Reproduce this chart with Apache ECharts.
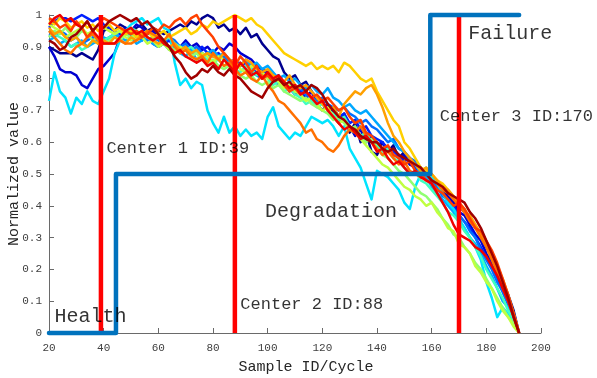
<!DOCTYPE html>
<html>
<head>
<meta charset="utf-8">
<script src="https://cdn.jsdelivr.net/npm/echarts@6/dist/echarts.min.js"></script>
<style>
  html, body { margin: 0; padding: 0; background: #fff; }
  #chart { width: 597px; height: 378px; }
</style>
</head>
<body>
<div id="chart"></div>
<script>
// Sample IDs (cycles) at which every run was recorded
const cycles = [
  20,22,24,26,28,30,32,34,36,38,
  40,42,44,46,48,50,52,54,56,58,
  60,62,64,66,68,70,72,74,76,78,
  80,82,84,86,88,90,92,94,96,98,
  100,102,104,106,108,110,112,114,116,118,
  120,122,124,126,128,130,132,134,136,138,
  140,142,144,146,148,150,152,154,156,158,
  160,162,164,166,168,170,172,174,176,178,
  180,182,184,186,188,190,192
];

// Normalized health indicator of each run
const run01 = [
  0.90,0.89,0.88,0.88,0.88,0.87,0.88,0.87,0.86,0.89,
  0.95,0.96,0.95,0.97,0.96,0.95,0.96,0.97,0.95,0.96,
  0.95,0.94,0.95,0.96,0.97,0.96,0.98,0.97,0.99,1.00,
  0.99,0.96,0.97,0.95,0.96,0.94,0.96,0.93,0.94,0.91,
  0.89,0.87,0.86,0.82,0.80,0.81,0.78,0.79,0.76,0.74,
  0.73,0.70,0.68,0.66,0.69,0.63,0.66,0.60,0.63,0.57,
  0.56,0.60,0.57,0.59,0.55,0.57,0.53,0.54,0.51,0.49,
  0.48,0.46,0.45,0.43,0.41,0.40,0.38,0.36,0.33,0.31,
  0.27,0.24,0.20,0.16,0.12,0.07,0.00
];
const run02 = [
  0.90,0.87,0.83,0.82,0.82,0.81,0.78,0.77,0.80,0.83,
  0.84,0.86,0.88,0.93,0.96,0.95,0.97,0.96,0.94,0.95,
  0.93,0.92,0.93,0.91,0.90,0.92,0.90,0.91,0.89,0.90,
  0.88,0.90,0.89,0.91,0.90,0.88,0.87,0.86,0.84,0.83,
  0.82,0.80,0.81,0.78,0.76,0.78,0.75,0.74,0.76,0.72,
  0.70,0.72,0.69,0.66,0.68,0.65,0.62,0.64,0.60,0.62,
  0.59,0.60,0.57,0.58,0.55,0.56,0.53,0.52,0.50,0.49,
  0.47,0.46,0.44,0.43,0.41,0.38,0.37,0.34,0.31,0.29,
  0.25,0.22,0.18,0.15,0.10,0.06,0.00
];
const run03 = [
  0.96,0.98,0.99,0.99,0.98,0.99,1.00,0.99,0.98,0.99,
  0.97,0.96,0.95,0.94,0.95,0.93,0.94,0.92,0.93,0.91,
  0.90,0.91,0.92,0.90,0.89,0.90,0.88,0.89,0.90,0.88,
  0.87,0.88,0.86,0.85,0.86,0.84,0.85,0.83,0.82,0.83,
  0.81,0.80,0.78,0.79,0.77,0.75,0.76,0.74,0.73,0.74,
  0.72,0.70,0.71,0.68,0.69,0.66,0.67,0.64,0.65,0.62,
  0.61,0.60,0.58,0.57,0.56,0.54,0.55,0.52,0.51,0.49,
  0.47,0.45,0.44,0.41,0.40,0.37,0.35,0.33,0.30,0.27,
  0.24,0.21,0.17,0.13,0.09,0.05,0.00
];
const run04 = [
  0.94,0.93,0.95,0.94,0.92,0.93,0.91,0.92,0.93,0.91,
  0.92,0.93,0.94,0.93,0.95,0.94,0.93,0.94,0.92,0.93,
  0.92,0.91,0.93,0.92,0.90,0.91,0.89,0.90,0.88,0.87,
  0.88,0.86,0.87,0.85,0.84,0.85,0.83,0.82,0.81,0.80,
  0.81,0.79,0.80,0.78,0.77,0.76,0.77,0.75,0.74,0.73,
  0.74,0.72,0.71,0.70,0.71,0.69,0.68,0.66,0.67,0.65,
  0.64,0.62,0.60,0.61,0.58,0.57,0.55,0.54,0.52,0.50,
  0.48,0.46,0.43,0.42,0.39,0.37,0.35,0.32,0.30,0.26,
  0.23,0.20,0.16,0.13,0.09,0.05,0.00
];
const run05 = [
  0.92,0.93,0.91,0.92,0.90,0.91,0.92,0.90,0.91,0.92,
  0.93,0.92,0.94,0.93,0.92,0.93,0.91,0.92,0.93,0.91,
  0.90,0.91,0.89,0.90,0.88,0.87,0.89,0.86,0.87,0.88,
  0.89,0.87,0.88,0.86,0.85,0.84,0.86,0.84,0.85,0.83,
  0.84,0.82,0.80,0.81,0.79,0.80,0.78,0.77,0.78,0.76,
  0.75,0.77,0.74,0.73,0.71,0.72,0.70,0.69,0.70,0.68,
  0.66,0.64,0.62,0.60,0.58,0.57,0.55,0.53,0.50,0.49,
  0.46,0.44,0.42,0.40,0.38,0.35,0.33,0.30,0.28,0.25,
  0.21,0.18,0.14,0.10,0.08,0.04,0.00
];
const run06 = [
  0.73,0.82,0.76,0.74,0.69,0.74,0.72,0.76,0.73,0.72,
  0.76,0.80,0.88,0.92,0.95,0.97,0.98,0.99,0.97,0.98,
  0.99,0.96,0.95,0.85,0.78,0.80,0.77,0.79,0.78,0.70,
  0.66,0.63,0.68,0.63,0.65,0.62,0.64,0.62,0.63,0.61,
  0.68,0.71,0.65,0.63,0.61,0.63,0.62,0.65,0.68,0.67,
  0.66,0.67,0.65,0.62,0.65,0.58,0.55,0.52,0.47,0.42,
  0.51,0.50,0.49,0.47,0.45,0.41,0.39,0.46,0.50,0.52,
  0.49,0.47,0.44,0.41,0.39,0.36,0.33,0.30,0.27,0.23,
  0.16,0.11,0.05,0.08,0.06,0.03,0.00
];
const run07 = [
  0.95,0.94,0.93,0.92,0.90,0.91,0.89,0.90,0.92,0.91,
  0.92,0.93,0.94,0.95,0.94,0.96,0.95,0.94,0.95,0.93,
  0.94,0.92,0.93,0.91,0.90,0.89,0.90,0.88,0.87,0.86,
  0.85,0.86,0.84,0.85,0.83,0.82,0.84,0.83,0.81,0.82,
  0.80,0.78,0.79,0.76,0.77,0.75,0.74,0.72,0.73,0.71,
  0.72,0.70,0.69,0.67,0.68,0.65,0.64,0.62,0.63,0.60,
  0.59,0.57,0.58,0.55,0.54,0.52,0.50,0.51,0.48,0.47,
  0.45,0.43,0.41,0.38,0.37,0.35,0.32,0.30,0.27,0.24,
  0.20,0.17,0.14,0.11,0.07,0.04,0.00
];
const run08 = [
  0.93,0.95,0.94,0.96,0.94,0.93,0.95,0.94,0.92,0.93,
  0.91,0.92,0.93,0.92,0.94,0.93,0.95,0.94,0.93,0.92,
  0.93,0.91,0.90,0.89,0.88,0.89,0.87,0.88,0.86,0.85,
  0.86,0.84,0.83,0.84,0.82,0.81,0.80,0.81,0.79,0.78,
  0.79,0.77,0.78,0.76,0.75,0.74,0.73,0.74,0.72,0.71,
  0.70,0.69,0.67,0.68,0.66,0.64,0.65,0.62,0.60,0.61,
  0.58,0.56,0.55,0.53,0.51,0.50,0.48,0.46,0.44,0.43,
  0.41,0.39,0.36,0.34,0.31,0.30,0.27,0.25,0.22,0.20,
  0.17,0.14,0.11,0.08,0.05,0.03,0.00
];
const run09 = [
  0.97,0.96,0.95,0.93,0.94,0.95,0.96,0.94,0.95,0.97,
  0.96,0.95,0.94,0.95,0.93,0.92,0.94,0.93,0.91,0.92,
  0.90,0.91,0.89,0.88,0.90,0.89,0.87,0.86,0.88,0.87,
  0.85,0.87,0.86,0.84,0.85,0.83,0.82,0.84,0.83,0.82,
  0.80,0.81,0.79,0.77,0.78,0.76,0.75,0.73,0.74,0.72,
  0.70,0.71,0.68,0.66,0.67,0.64,0.63,0.61,0.59,0.57,
  0.55,0.53,0.52,0.50,0.48,0.46,0.45,0.43,0.42,0.40,
  0.41,0.38,0.36,0.33,0.32,0.28,0.27,0.25,0.21,0.19,
  0.16,0.14,0.10,0.07,0.05,0.02,0.00
];
const run10 = [
  0.98,0.97,0.99,0.98,0.96,0.97,0.98,0.96,0.97,0.95,
  0.96,0.97,0.95,0.96,0.94,0.95,0.93,0.94,0.95,0.93,
  0.94,0.95,0.93,0.94,0.95,0.96,0.94,0.95,0.97,0.96,
  0.98,0.97,0.98,0.99,1.00,0.99,0.98,0.99,0.97,0.96,
  0.94,0.92,0.90,0.88,0.87,0.86,0.85,0.84,0.85,0.83,
  0.84,0.83,0.84,0.82,0.85,0.84,0.82,0.80,0.79,0.80,
  0.76,0.73,0.70,0.67,0.65,0.60,0.58,0.55,0.52,0.51,
  0.50,0.48,0.47,0.45,0.43,0.41,0.39,0.36,0.34,0.31,
  0.28,0.24,0.20,0.15,0.11,0.06,0.00
];
const run11 = [
  0.96,0.94,0.95,0.93,0.92,0.93,0.91,0.90,0.92,0.91,
  0.92,0.91,0.93,0.92,0.91,0.93,0.92,0.94,0.93,0.92,
  0.91,0.92,0.90,0.91,0.89,0.90,0.88,0.89,0.87,0.88,
  0.87,0.86,0.88,0.86,0.85,0.84,0.86,0.85,0.83,0.82,
  0.83,0.81,0.80,0.79,0.81,0.78,0.77,0.78,0.76,0.74,
  0.72,0.70,0.71,0.68,0.72,0.74,0.76,0.75,0.77,0.78,
  0.75,0.71,0.66,0.62,0.60,0.57,0.55,0.53,0.51,0.52,
  0.50,0.48,0.46,0.45,0.43,0.41,0.38,0.37,0.34,0.31,
  0.28,0.25,0.21,0.17,0.12,0.06,0.00
];
const run12 = [
  0.95,0.93,0.91,0.89,0.88,0.90,0.91,0.93,0.94,0.92,
  0.91,0.91,0.91,0.92,0.91,0.91,0.92,0.93,0.95,0.94,
  0.93,0.92,0.94,0.90,0.88,0.89,0.87,0.86,0.87,0.85,
  0.88,0.86,0.84,0.85,0.83,0.81,0.82,0.80,0.79,0.81,
  0.78,0.76,0.73,0.72,0.70,0.68,0.66,0.63,0.64,0.61,
  0.60,0.58,0.57,0.59,0.62,0.64,0.63,0.65,0.62,0.60,
  0.58,0.56,0.57,0.55,0.53,0.54,0.51,0.50,0.49,0.50,
  0.48,0.47,0.45,0.44,0.42,0.40,0.38,0.35,0.33,0.30,
  0.27,0.23,0.19,0.14,0.10,0.05,0.00
];
const run13 = [
  0.99,0.98,0.96,0.97,0.95,0.98,0.96,0.93,0.95,0.97,
  0.99,0.98,0.97,0.96,0.95,0.94,0.95,0.93,0.94,0.96,
  0.95,0.97,0.96,0.98,0.99,0.97,0.99,1.00,0.97,0.95,
  0.93,0.90,0.88,0.86,0.84,0.87,0.85,0.82,0.84,0.80,
  0.81,0.79,0.80,0.78,0.76,0.77,0.75,0.76,0.74,0.75,
  0.73,0.74,0.72,0.70,0.71,0.68,0.66,0.67,0.63,0.62,
  0.60,0.58,0.59,0.56,0.55,0.53,0.54,0.51,0.50,0.48,
  0.47,0.45,0.44,0.42,0.40,0.41,0.39,0.36,0.33,0.32,
  0.29,0.26,0.22,0.17,0.12,0.06,0.00
];
const run14 = [
  0.97,0.99,1.00,0.98,0.99,0.97,0.96,0.98,0.95,0.93,
  0.91,0.91,0.91,0.93,0.95,0.96,0.94,0.95,0.93,0.92,
  0.93,0.91,0.90,0.88,0.89,0.87,0.86,0.85,0.86,0.84,
  0.85,0.83,0.86,0.84,0.82,0.85,0.83,0.81,0.82,0.80,
  0.82,0.80,0.81,0.79,0.77,0.78,0.75,0.76,0.74,0.72,
  0.73,0.70,0.68,0.66,0.64,0.65,0.63,0.61,0.62,0.60,
  0.57,0.58,0.55,0.53,0.54,0.52,0.50,0.51,0.49,0.48,
  0.47,0.44,0.41,0.38,0.34,0.31,0.30,0.29,0.27,0.26,
  0.24,0.21,0.18,0.14,0.10,0.05,0.00
];
const run15 = [
  0.92,0.91,0.89,0.90,0.93,0.94,0.96,0.98,0.95,0.97,
  0.96,0.98,0.99,1.00,0.99,0.98,0.99,0.97,0.98,0.96,
  0.94,0.92,0.90,0.87,0.85,0.82,0.80,0.81,0.83,0.82,
  0.84,0.82,0.81,0.83,0.81,0.80,0.78,0.76,0.75,0.74,
  0.77,0.79,0.80,0.78,0.79,0.77,0.78,0.76,0.78,0.77,
  0.75,0.72,0.70,0.68,0.67,0.65,0.64,0.62,0.61,0.60,
  0.60,0.58,0.57,0.58,0.56,0.55,0.54,0.53,0.52,0.50,
  0.48,0.47,0.46,0.44,0.43,0.42,0.41,0.38,0.36,0.33,
  0.29,0.25,0.21,0.16,0.11,0.05,0.00
];

const runs = [run01, run02, run03, run04, run05, run06, run07, run08,
              run09, run10, run11, run12, run13, run14, run15];

// Cluster assignment: Health (0), Degradation (0.5), Failure (1)
const stateCycles = [20, 44.5, 44.5, 159.5, 159.5, 192];
const stateLevels = [0, 0, 0.5, 0.5, 1, 1];

// Cluster centre sample IDs
const centerIds = [39, 88, 170];

// Annotation texts and their anchor points (cycle, value)
const noteTexts  = ['Center 1 ID:39', 'Center 2 ID:88', 'Center 3 ID:170',
                    'Failure', 'Degradation', 'Health'];
const noteCycles = [41, 90, 163, 173.4, 99, 22];
const noteValues = [0.58, 0.09, 0.68, 0.94, 0.38, 0.05];

// Axis tick labels
const xTicks = [20, 40, 60, 80, 100, 120, 140, 160, 180, 200];
const yTicks = ['0', '0.1', '0.2', '0.3', '0.4', '0.5', '0.6', '0.7', '0.8', '0.9', '1'];

// Jet-like palette for the runs, dark blue to dark red
const runColors = ['#00008f', '#0000d0', '#0020ff', '#0070ff', '#00a8ff', '#00e4ff',
                   '#40ffc0', '#90ff70', '#c0ff40', '#ffd000', '#ffa000', '#ff7000',
                   '#ff4000', '#f00000', '#a00000'];
const noteSizes = [17, 17, 17, 20, 20, 20];

const MONO = '"Liberation Mono", "Courier New", monospace';

const series = [];
runs.forEach((vals, i) => {
  series.push({
    type: 'line',
    data: cycles.map((c, k) => [c, vals[k]]),
    showSymbol: false,
    symbol: 'none',
    clip: false,
    lineStyle: { color: runColors[i], width: 2.5, join: 'round' },
    z: 2,
    silent: true
  });
});

centerIds.forEach(id => {
  series.push({
    type: 'line',
    data: [[id, 0], [id, 1]],
    symbol: 'none',
    clip: false,
    lineStyle: { color: '#ff0000', width: 4.5, cap: 'butt' },
    z: 3,
    silent: true
  });
});

series.push({
  type: 'line',
  data: stateCycles.map((c, k) => [c, stateLevels[k]]),
  symbol: 'none',
  clip: false,
  lineStyle: { color: '#0072bd', width: 4.5, join: 'round', cap: 'round' },
  z: 4,
  silent: true
});

series.push({
  type: 'scatter',
  symbolSize: 0,
  clip: false,
  z: 5,
  silent: true,
  data: noteTexts.map((t, k) => ({
    value: [noteCycles[k], noteValues[k]],
    label: {
      show: true,
      formatter: t,
      position: [0, 0],
      align: 'left',
      verticalAlign: 'middle',
      fontFamily: MONO,
      fontSize: noteSizes[k],
      color: '#000'
    }
  }))
});

const chart = echarts.init(document.getElementById('chart'), null, { renderer: 'canvas' });
chart.setOption({
  animation: false,
  backgroundColor: '#fff',
  grid: { left: 49, right: 56, top: 15, bottom: 45, containLabel: false, outerBoundsMode: 'none' },
  xAxis: {
    type: 'value',
    min: 20, max: 200, interval: 20,
    name: 'Sample ID/Cycle',
    nameLocation: 'middle',
    nameGap: 27,
    nameMoveOverlap: false,
    nameTextStyle: { fontFamily: MONO, fontSize: 15, color: '#262626', padding: [0, 0, 0, 22] },
    axisLine: { show: true, onZero: false, lineStyle: { color: '#6a6a6a', width: 1 } },
    axisTick: { show: true, inside: true, length: 5, lineStyle: { color: '#6a6a6a' } },
    axisLabel: {
      fontFamily: MONO, fontSize: 11, color: '#404040', margin: 10,
      formatter: v => (xTicks.includes(v) ? String(v) : '')
    },
    splitLine: { show: false }
  },
  yAxis: {
    type: 'value',
    min: 0, max: 1, interval: 0.1,
    name: 'Normalized value',
    nameLocation: 'middle',
    nameGap: 27,
    nameMoveOverlap: false,
    nameTextStyle: { fontFamily: MONO, fontSize: 15, color: '#262626' },
    axisLine: { show: true, onZero: false, lineStyle: { color: '#6a6a6a', width: 1 } },
    axisTick: { show: true, inside: true, length: 5, lineStyle: { color: '#6a6a6a' } },
    axisLabel: {
      fontFamily: MONO, fontSize: 11, color: '#404040', margin: 7,
      formatter: v => yTicks[Math.round(v * 10)]
    },
    splitLine: { show: false }
  },
  series: series
});
</script>
</body>
</html>
